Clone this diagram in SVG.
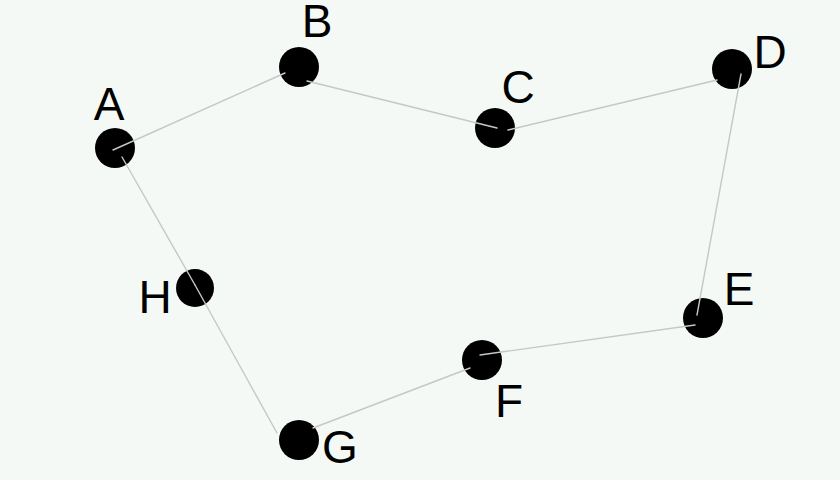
<svg xmlns="http://www.w3.org/2000/svg" width="840" height="480" viewBox="0 0 840 480">
  <style>
    .dot { fill: #000; }
    .lbl { font-family: "Liberation Sans", Arial, sans-serif; font-size: 46px; fill: #000; text-anchor: middle; }
    .edge { stroke: #c4c8c6; stroke-width: 1.4; fill: none; stroke-linecap: round; }
  </style>
  <rect width="840" height="480" fill="#f4f9f6"/>

  <g id="node-A"><circle class="dot" cx="115" cy="148" r="20"/><text class="lbl" x="109" y="120">A</text></g>
  <g id="node-B"><circle class="dot" cx="299" cy="67" r="20"/><text class="lbl" x="317" y="37">B</text></g>
  <g id="node-C"><circle class="dot" cx="495" cy="128" r="20"/><text class="lbl" x="518" y="103">C</text></g>
  <g id="node-D"><circle class="dot" cx="732" cy="69" r="20"/><text class="lbl" x="770" y="68">D</text></g>
  <g id="node-E"><circle class="dot" cx="703" cy="318" r="20"/><text class="lbl" x="739" y="305">E</text></g>
  <g id="node-F"><circle class="dot" cx="482" cy="360" r="20"/><text class="lbl" x="509" y="417">F</text></g>
  <g id="node-G"><circle class="dot" cx="299" cy="440" r="20"/><text class="lbl" x="340" y="463">G</text></g>
  <g id="node-H"><circle class="dot" cx="195" cy="288" r="19"/><text class="lbl" x="155" y="313">H</text></g>

  <g id="connectors">
    <line class="edge" x1="113" y1="150" x2="285" y2="73"/>
    <line class="edge" x1="307" y1="81" x2="497" y2="128"/>
    <line class="edge" x1="508" y1="130" x2="717" y2="80"/>
    <line class="edge" x1="741" y1="74" x2="697" y2="315"/>
    <line class="edge" x1="695" y1="325" x2="480" y2="355"/>
    <line class="edge" x1="470" y1="368" x2="313" y2="428"/>
    <line class="edge" x1="277" y1="433" x2="195" y2="285"/>
    <line class="edge" x1="195" y1="285" x2="122" y2="157"/>
  </g>
</svg>
